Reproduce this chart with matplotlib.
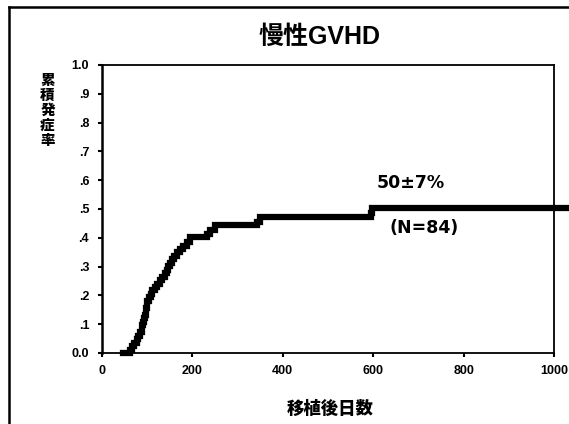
import matplotlib
matplotlib.use("Agg")
import matplotlib.pyplot as plt
from matplotlib.lines import Line2D

# 累積発症率 (慢性GVHD), 図から読み取った値
days = [48, 62, 68, 72, 77, 81, 85, 88, 90, 92, 94, 95, 97, 98, 100, 101,
        104, 108, 112, 117, 122, 128, 134, 140, 144, 147, 150, 155, 160,
        166, 172, 180, 188, 196, 233, 240, 250, 343, 349, 594, 598, 1040]
incidence = [0.0, 0.012, 0.024, 0.036, 0.048, 0.060, 0.072, 0.084, 0.096,
             0.108, 0.120, 0.133, 0.145, 0.157, 0.169, 0.181, 0.193, 0.205,
             0.217, 0.229, 0.241, 0.253, 0.265, 0.277, 0.289, 0.301, 0.313,
             0.325, 0.337, 0.349, 0.361, 0.373, 0.385, 0.402, 0.414, 0.426,
             0.444, 0.456, 0.471, 0.486, 0.502, 0.502]

x_ticks = [0, 200, 400, 600, 800, 1000]
y_ticks = [0.0, 0.1, 0.2, 0.3, 0.4, 0.5, 0.6, 0.7, 0.8, 0.9, 1.0]
y_ticklabels = ["0.0", ".1", ".2", ".3", ".4", ".5", ".6", ".7", ".8", ".9", "1.0"]

jp = ["Noto Sans CJK JP", "DejaVu Sans"]
mixed = ["Liberation Sans", "Noto Sans CJK JP"]

fig = plt.figure(figsize=(5.69, 4.24), dpi=100)
ax = fig.add_axes([0.1787, 0.1675, 0.7954, 0.6792])

ax.plot(days, incidence, drawstyle="steps-post", color="black",
        linewidth=4.5, clip_on=False, solid_joinstyle="miter", zorder=3)

ax.set_xlim(0, 1000)
ax.set_ylim(0, 1.0)
ax.set_xticks(x_ticks)
ax.set_xticklabels([str(t) for t in x_ticks], fontfamily="Liberation Sans",
                   fontweight="bold", fontsize=9)
ax.set_yticks(y_ticks)
ax.set_yticklabels(y_ticklabels, fontfamily="Liberation Sans",
                   fontweight="bold", fontsize=9)
ax.tick_params(direction="out", length=3, width=1.5, pad=6)
for s in ax.spines.values():
    s.set_linewidth(1.3)
ax.spines["left"].set_linewidth(1.8)

# 注記
fig.text(411 / 569, 1 - 183.5 / 424, "50±7%", ha="center", va="center",
         fontsize=12.5, fontfamily="DejaVu Sans", fontweight="bold")
fig.text(424 / 569, 1 - 228.5 / 424, "(N=84)", ha="center", va="center",
         fontsize=12.5, fontfamily="DejaVu Sans", fontweight="bold")

# タイトル・軸ラベル
fig.text(320 / 569, 1 - 37 / 424, "慢性GVHD", ha="center", va="center",
         fontsize=18, fontfamily=mixed, fontweight="bold")
fig.text(47.5 / 569, 1 - 110 / 424, "\n".join("累積発症率"), ha="center",
         va="center", fontsize=10.5, fontfamily=jp, fontweight="heavy",
         linespacing=1.0)
fig.text(330 / 569, 1 - 409 / 424, "移植後日数", ha="center", va="center",
         fontsize=12.5, fontfamily=jp, fontweight="heavy")

# 外枠
fig.add_artist(Line2D([8.5 / 569, 8.5 / 569], [0, 1 - 7 / 424],
                      transform=fig.transFigure, color="black", linewidth=1.8))
fig.add_artist(Line2D([8.5 / 569, 1], [1 - 7 / 424, 1 - 7 / 424],
                      transform=fig.transFigure, color="black", linewidth=1.8))

fig.savefig("out.png", dpi=100)
